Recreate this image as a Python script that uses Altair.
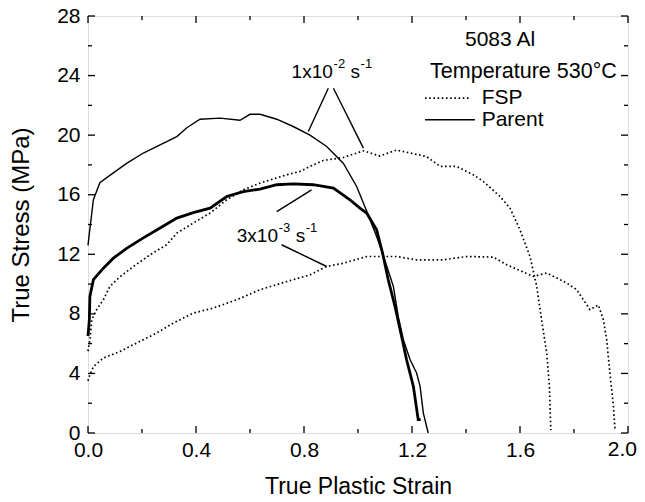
import altair as alt
import pandas as pd

# ---------------- data ----------------
# Parent, 1x10^-2 s^-1 (thin solid)
parent_fast_strain = [0.0, 0.005, 0.02, 0.044, 0.081, 0.143, 0.205, 0.267, 0.329, 0.366, 0.415,
                      0.489, 0.563, 0.6, 0.637, 0.699, 0.76, 0.822, 0.884, 0.946, 0.995, 1.032,
                      1.069, 1.094, 1.131, 1.149, 1.168, 1.193, 1.217, 1.23, 1.242, 1.26]
parent_fast_stress = [12.6, 13.4, 15.66, 16.8, 17.3, 18.1, 18.8, 19.35, 19.9, 20.5, 21.07,
                      21.14, 21.0, 21.4, 21.4, 21.07, 20.58, 20.0, 19.24, 18.1, 16.55, 14.9,
                      13.2, 11.9, 9.84, 7.83, 6.26, 4.92, 4.03, 3.13, 1.34, 0.0]

# Parent, 3x10^-3 s^-1 (thick solid)
parent_slow_strain = [0.0, 0.005, 0.007, 0.02, 0.057, 0.094, 0.143, 0.205, 0.267, 0.329, 0.39,
                      0.452, 0.514, 0.575, 0.637, 0.699, 0.76, 0.834, 0.909, 0.97, 1.007, 1.032,
                      1.069, 1.091, 1.112, 1.137, 1.156, 1.18, 1.205, 1.223, 1.232]
parent_slow_stress = [6.5, 7.6, 9.17, 10.3, 11.07, 11.74, 12.4, 13.1, 13.76, 14.43, 14.8,
                      15.1, 15.88, 16.2, 16.38, 16.67, 16.73, 16.67, 16.44, 15.66, 15.1, 14.77,
                      13.64, 12.08, 10.29, 8.5, 6.93, 4.92, 3.13, 0.9, 0.9]

# FSP, 1x10^-2 s^-1 (dotted, upper)
fsp_fast_strain = [0.0, 0.007, 0.014, 0.032, 0.057, 0.081, 0.119, 0.168, 0.23, 0.291, 0.329,
                   0.39, 0.452, 0.514, 0.575, 0.637, 0.736, 0.785, 0.822, 0.871, 0.946, 1.02,
                   1.081, 1.143, 1.193, 1.254, 1.304, 1.365, 1.427, 1.464, 1.526, 1.563, 1.6,
                   1.637, 1.662, 1.68, 1.699, 1.709, 1.714]
fsp_fast_stress = [5.5, 6.26, 7.6, 8.28, 8.95, 9.84, 10.5, 11.18, 11.97, 12.64, 13.42,
                   14.1, 14.77, 15.66, 16.33, 16.78, 17.34, 17.56, 17.9, 18.3, 18.5, 18.95,
                   18.6, 19.0, 18.8, 18.56, 17.9, 17.9, 17.34, 16.89, 15.88, 15.1, 13.64,
                   11.85, 9.84, 7.6, 5.37, 3.13, 0.2]

# FSP, 3x10^-3 s^-1 (dotted, lower)
fsp_slow_strain = [0.0, 0.005, 0.02, 0.057, 0.119, 0.18, 0.254, 0.316, 0.39, 0.464, 0.551,
                   0.637, 0.736, 0.822, 0.884, 0.946, 1.032, 1.143, 1.217, 1.316, 1.403, 1.501,
                   1.551, 1.649, 1.699, 1.773, 1.81, 1.859, 1.89, 1.909, 1.921, 1.933, 1.946,
                   1.952]
fsp_slow_stress = [3.5, 3.8, 4.47, 5.03, 5.48, 6.04, 6.71, 7.38, 8.05, 8.39, 8.95,
                   9.62, 10.17, 10.62, 11.18, 11.4, 11.85, 11.85, 11.63, 11.63, 11.85, 11.81,
                   11.3, 10.51, 10.74, 10.07, 9.62, 8.28, 8.6, 7.6, 6.26, 4.03, 1.79,
                   0.2]

x_major = [0.0, 0.4, 0.8, 1.2, 1.6, 2.0]
x_minor = [0.2, 0.6, 1.0, 1.4, 1.8]
y_major = [0, 4, 8, 12, 16, 20, 24, 28]
y_minor = [2, 6, 10, 14, 18, 22, 26]

# annotation leader lines (data units): x, y -> x2, y2
lead_x = [0.89, 0.909, 0.699, 0.717]
lead_y = [23.15, 23.15, 14.87, 12.64]
lead_x2 = [0.816, 1.02, 0.828, 0.884]
lead_y2 = [20.24, 19.13, 16.33, 11.18]

# ---------------- chart ----------------
W, H = 540, 417
FONT = "Liberation Sans"
MAJ, MIN = 7, 4
LABEL_SIZE = 21

xs = alt.Scale(domain=[0, 2], nice=False, zero=False)
ys = alt.Scale(domain=[0, 28], nice=False, zero=False)

# the last x label (2.0) is drawn as a text mark so it stays inside the page
x_axis = alt.Axis(title="True Plastic Strain", values=x_major[:-1], format=".1f", grid=False,
                  ticks=False, domain=False, labelFontSize=LABEL_SIZE, titleFontSize=23,
                  labelPadding=6, titlePadding=15, labelFont=FONT, titleFont=FONT,
                  labelColor="black", titleColor="black", titleFontWeight="normal",
                  labelFlush=False, labelOverlap=False)
y_axis = alt.Axis(title="True Stress (MPa)", values=y_major, format="d", grid=False,
                  ticks=False, domain=False, labelFontSize=LABEL_SIZE, titleFontSize=24,
                  labelPadding=8, titlePadding=23, labelFont=FONT, titleFont=FONT,
                  labelColor="black", titleColor="black", titleFontWeight="normal",
                  labelOverlap=False)


def X(f="x"):
    return alt.X(f"{f}:Q", scale=xs, axis=x_axis)


def Y(f="y"):
    return alt.Y(f"{f}:Q", scale=ys, axis=y_axis)


def series(sx, sy):
    return pd.DataFrame({"x": sx, "y": sy})


layers = []

# curves
layers.append(alt.Chart(series(fsp_slow_strain, fsp_slow_stress)).mark_line(
    color="black", strokeWidth=1.7, strokeDash=[1.6, 2.6]).encode(x=X(), y=Y()))
layers.append(alt.Chart(series(fsp_fast_strain, fsp_fast_stress)).mark_line(
    color="black", strokeWidth=1.7, strokeDash=[1.6, 2.6]).encode(x=X(), y=Y()))
layers.append(alt.Chart(series(parent_slow_strain, parent_slow_stress)).mark_line(
    color="black", strokeWidth=2.8).encode(x=X(), y=Y()))
layers.append(alt.Chart(series(parent_fast_strain, parent_fast_stress)).mark_line(
    color="black", strokeWidth=1.4).encode(x=X(), y=Y()))

# leader lines
lead = pd.DataFrame({"x": lead_x, "y": lead_y, "x2": lead_x2, "y2": lead_y2})
layers.append(alt.Chart(lead).mark_rule(color="black", strokeWidth=1.4).encode(
    x=X(), y=Y(), x2="x2:Q", y2="y2:Q"))

# inward ticks on all four sides
def tick_df(vals):
    return pd.DataFrame({"v": vals})

for vals, ln in ((x_major, MAJ), (x_minor, MIN)):
    layers.append(alt.Chart(tick_df(vals)).mark_rule(color="black", strokeWidth=1.3).encode(
        x=alt.X("v:Q", scale=xs, axis=x_axis), y=alt.value(H), y2=alt.value(H - ln)))
    layers.append(alt.Chart(tick_df(vals)).mark_rule(color="black", strokeWidth=1.3).encode(
        x=alt.X("v:Q", scale=xs, axis=x_axis), y=alt.value(0), y2=alt.value(ln)))
for vals, ln in ((y_major, MAJ), (y_minor, MIN)):
    layers.append(alt.Chart(tick_df(vals)).mark_rule(color="black", strokeWidth=1.3).encode(
        y=alt.Y("v:Q", scale=ys, axis=y_axis), x=alt.value(0), x2=alt.value(ln)))
    layers.append(alt.Chart(tick_df(vals)).mark_rule(color="black", strokeWidth=1.3).encode(
        y=alt.Y("v:Q", scale=ys, axis=y_axis), x=alt.value(W), x2=alt.value(W - ln)))


def text(label, x, y, size, align="left", dx=0, dy=0, baseline="middle"):
    df = pd.DataFrame({"x": [x], "y": [y], "t": [label]})
    return alt.Chart(df).mark_text(font=FONT, fontSize=size, align=align, baseline=baseline,
                                   color="black", dx=dx, dy=dy).encode(
        x=X(), y=Y(), text="t:N")


# last x tick label
layers.append(text(f"{x_major[-1]:.1f}", x_major[-1], 0, LABEL_SIZE, align="right",
                   dx=9, dy=6, baseline="top"))

# legend block
layers.append(text("5083 Al", 1.526, 26.42, 21, align="center"))
layers.append(text("Temperature 530°C", 1.267, 24.27, 21.5))
layers.append(text("FSP", 1.458, 22.48, 21))
layers.append(text("Parent", 1.458, 21.03, 21))
leg = pd.DataFrame({"x": [1.248, 1.248], "x2": [1.415, 1.433], "y": [22.48, 21.03],
                    "k": ["FSP", "Parent"]})
layers.append(alt.Chart(leg[leg.k == "FSP"]).mark_rule(
    color="black", strokeWidth=1.7, strokeDash=[1.6, 2.6]).encode(x=X(), x2="x2:Q", y=Y()))
layers.append(alt.Chart(leg[leg.k == "Parent"]).mark_rule(
    color="black", strokeWidth=1.4).encode(x=X(), x2="x2:Q", y=Y()))

# strain-rate labels with superscripts
for base, sup, ax, ay in (("1x10", "-2", 0.754, 24.25), ("3x10", "-3", 0.551, 13.24)):
    layers.append(text(base, ax, ay, 19))
    layers.append(text(sup, ax, ay, 13, dx=42, dy=-8))
    layers.append(text("s", ax, ay, 19, dx=59))
    layers.append(text("-1", ax, ay, 13, dx=69, dy=-8))

chart = alt.layer(*layers).properties(
    width=W, height=H,
    padding={"left": 80, "top": 8, "right": 9, "bottom": 64},
    autosize=alt.AutoSizeParams(type="none"),
).configure_view(stroke="black", strokeWidth=1.5).configure(background="white")

chart.save("out.html", embed_options={"renderer": "svg", "actions": False})
